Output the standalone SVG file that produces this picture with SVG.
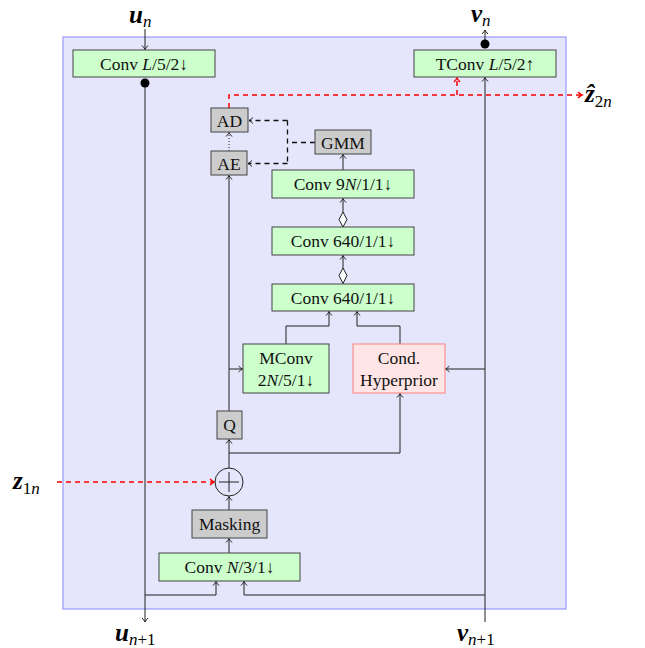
<svg xmlns="http://www.w3.org/2000/svg" width="645" height="648" viewBox="0 0 645 648">
<style>
.box{stroke:#444;stroke-width:1}
.g{fill:#ccffcc}
.gr{fill:#cccccc}
.t{font-family:"Liberation Serif","Times New Roman",serif;font-size:17.5px;fill:#111;text-anchor:middle}
.m{font-family:"Liberation Serif","DejaVu Serif",serif;font-style:italic;font-weight:bold;font-size:25px;fill:#000}
.s{font-weight:normal;font-size:17px}
.up{font-style:normal}
.ln{fill:none;stroke:#222;stroke-width:1}
.rd{fill:none;stroke:#ff0000;stroke-width:1.5;stroke-dasharray:5,4}
.dk{fill:none;stroke:#111;stroke-width:1.3;stroke-dasharray:5,4}
</style>
<defs>
<marker id="a" markerUnits="userSpaceOnUse" markerWidth="10" markerHeight="10" refX="0" refY="0" viewBox="-6 -5 8 10" orient="auto">
<path d="M-4,-3 Q-1.5,-0.6 0,0 Q-1.5,0.6 -4,3" fill="none" stroke="#222" stroke-width="1"/>
</marker>
<marker id="ar" markerUnits="userSpaceOnUse" markerWidth="10" markerHeight="10" refX="0" refY="0" viewBox="-6 -5 8 10" orient="auto">
<path d="M-4,-3 Q-1.5,-0.6 0,0 Q-1.5,0.6 -4,3" fill="none" stroke="#ff0000" stroke-width="1.4"/>
</marker>
</defs>
<rect x="63" y="37" width="503" height="572" fill="#e5e5fc" stroke="#9999ff" stroke-width="1.2"/>

<g id="connectors">
<path class="ln" d="M145,29 V49.5" marker-end="url(#a)"/>
<path class="ln" d="M145,83 V622" marker-end="url(#a)"/>
<path class="ln" d="M485,44 V30" marker-end="url(#a)"/>
<path class="ln" d="M485,622 V77.5" marker-end="url(#a)"/>
<path class="ln" d="M145,595 H216 V581.5" marker-end="url(#a)"/>
<path class="ln" d="M485,595 H244 V581.5" marker-end="url(#a)"/>
<path class="ln" d="M229,553 V538.5" marker-end="url(#a)"/>
<path class="ln" d="M229,510 V496.5" marker-end="url(#a)"/>
<path class="ln" d="M229,468 V439.5" marker-end="url(#a)"/>
<path class="ln" d="M229,453 H400 V393.5" marker-end="url(#a)"/>
<path class="ln" d="M229,411 V175.5" marker-end="url(#a)"/>
<path class="ln" d="M229,369 H242.5" marker-end="url(#a)"/>
<path class="ln" d="M485,369 H445.5" marker-end="url(#a)"/>
<path class="ln" d="M286,344 V326 H329 V311.5" marker-end="url(#a)"/>
<path class="ln" d="M400,344 V326 H357 V311.5" marker-end="url(#a)"/>
<path class="ln" d="M343,268 V255.5" marker-end="url(#a)"/>
<polygon points="343,268 347,275.5 343,283.5 339,275.5" fill="#fff" stroke="#222" stroke-width="1"/>
<path class="ln" d="M343,212 V198.5" marker-end="url(#a)"/>
<polygon points="343,212 347,219.5 343,227 339,219.5" fill="#fff" stroke="#222" stroke-width="1"/>
<path class="ln" d="M343,170 V154.5" marker-end="url(#a)"/>
<path class="ln" d="M229,151 V132.5" stroke-dasharray="1,2" marker-end="url(#a)"/>
<path class="dk" d="M315,142.5 H287.5"/>
<path class="dk" d="M287.5,120.5 V163.5"/>
<path class="dk" d="M287.5,120.5 H249" marker-end="url(#a)"/>
<path class="dk" d="M287.5,163.5 H248" marker-end="url(#a)"/>
<path class="rd" d="M229,108 V95 H582" marker-end="url(#ar)"/>
<path class="rd" d="M457,95 V78" marker-end="url(#ar)"/>
<path class="rd" d="M57,482 H214" marker-end="url(#ar)"/>
<circle cx="145" cy="83" r="4.5" fill="#000"/>
<circle cx="485" cy="44" r="4.5" fill="#000"/>
</g>

<g id="conv_l"><rect class="box g" x="73" y="50" width="142" height="27"/><text class="t" x="144" y="69.5">Conv <tspan font-style="italic">L</tspan>/5/2↓</text></g>
<g id="tconv_l"><rect class="box g" x="414" y="50" width="142" height="27"/><text class="t" x="485" y="69.5">TConv <tspan font-style="italic">L</tspan>/5/2↑</text></g>
<g id="ad"><rect class="box gr" x="211" y="108" width="37" height="24"/><text class="t" x="229.5" y="126.5">AD</text></g>
<g id="ae"><rect class="box gr" x="211" y="151" width="36" height="24"/><text class="t" x="229" y="169.5">AE</text></g>
<g id="gmm"><rect class="box gr" x="315" y="130" width="56" height="24"/><text class="t" x="343" y="148.5">GMM</text></g>
<g id="conv_9n"><rect class="box g" x="272" y="170" width="142" height="28"/><text class="t" x="343" y="190">Conv 9<tspan font-style="italic">N</tspan>/1/1↓</text></g>
<g id="conv_640a"><rect class="box g" x="272" y="227" width="142" height="28"/><text class="t" x="343" y="247">Conv 640/1/1↓</text></g>
<g id="conv_640b"><rect class="box g" x="272" y="284" width="142" height="27"/><text class="t" x="343" y="303.5">Conv 640/1/1↓</text></g>
<g id="mconv"><rect class="box g" x="243" y="344" width="86" height="49"/><text class="t" x="286" y="364">MConv</text><text class="t" x="286" y="386">2<tspan font-style="italic">N</tspan>/5/1↓</text></g>
<g id="cond_hyperprior"><rect x="353" y="344" width="92" height="49" fill="#ffe5e5" stroke="#ff8080" stroke-width="1"/><text class="t" x="399" y="364">Cond.</text><text class="t" x="399" y="386">Hyperprior</text></g>
<g id="q"><rect class="box gr" x="217" y="411" width="25" height="28"/><text class="t" x="229.5" y="431">Q</text></g>
<g id="sum"><circle cx="229" cy="482" r="14" fill="none" stroke="#222" stroke-width="1"/><path d="M219,482 H239 M229,472 V492" stroke="#222" stroke-width="1"/></g>
<g id="masking"><rect class="box gr" x="192" y="510" width="75" height="28"/><text class="t" x="229.5" y="530">Masking</text></g>
<g id="conv_n"><rect class="box g" x="159" y="553" width="141" height="28"/><text class="t" x="229.5" y="573">Conv <tspan font-style="italic">N</tspan>/3/1↓</text></g>

<g id="labels">
<text class="m" x="129" y="23">u<tspan class="s" dy="4">n</tspan></text>
<text class="m" x="471" y="22">v<tspan class="s" dy="4">n</tspan></text>
<text class="m" x="585" y="102">ẑ<tspan class="s" dy="5"><tspan class="up">2</tspan>n</tspan></text>
<text class="m" x="13" y="489">z<tspan class="s" dy="5"><tspan class="up">1</tspan>n</tspan></text>
<text class="m" x="115" y="641">u<tspan class="s" dy="4">n<tspan class="up">+1</tspan></tspan></text>
<text class="m" x="457" y="641">v<tspan class="s" dy="4">n<tspan class="up">+1</tspan></tspan></text>
</g>
</svg>
